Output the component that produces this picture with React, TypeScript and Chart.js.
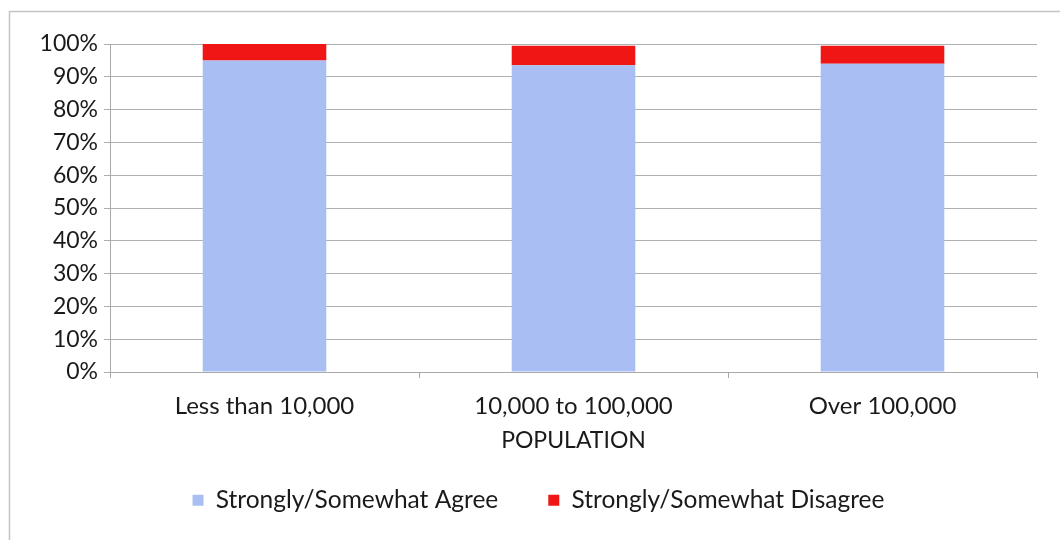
import React, { useEffect, useRef } from "react";
import { Chart, registerables } from "chart.js";

Chart.register(...registerables);

const categories = ["Less than 10,000", "10,000 to 100,000", "Over 100,000"];
const agreeValues = [95, 93.5, 94];
const disagreeValues = [5, 6, 5.5];
const yTickValues = [0, 10, 20, 30, 40, 50, 60, 70, 80, 90, 100];
const seriesNames = ["Strongly/Somewhat Agree", "Strongly/Somewhat Disagree"];
const xTitle = "POPULATION";

const FONT = "Lato, 'Open Sans', sans-serif";

const framePlugin = {
  id: "frame",
  beforeDraw(chart: any) {
    const ctx = chart.ctx;
    ctx.save();
    ctx.strokeStyle = "#c4c4c4";
    ctx.lineWidth = 1.5;
    ctx.beginPath();
    ctx.moveTo(9.5, 540);
    ctx.lineTo(9.5, 11.5);
    ctx.lineTo(1060, 11.5);
    ctx.stroke();
    ctx.restore();
  },
};

export default function App() {
  const ref = useRef<HTMLCanvasElement | null>(null);
  useEffect(() => {
    if (!ref.current) return;
    const chart = new Chart(ref.current, {
      type: "bar",
      data: {
        labels: categories,
        datasets: [
          {
            label: seriesNames[0],
            data: agreeValues,
            backgroundColor: "#a9bff4",
            categoryPercentage: 1,
            barPercentage: 0.4,
          },
          {
            label: seriesNames[1],
            data: disagreeValues,
            backgroundColor: "#f01616",
            categoryPercentage: 1,
            barPercentage: 0.4,
          },
        ],
      },
      options: {
        animation: false,
        responsive: true,
        maintainAspectRatio: false,
        layout: { padding: { left: 40, right: 23, top: 44, bottom: 17.5 } },
        plugins: {
          tooltip: { enabled: false },
          legend: {
            position: "bottom",
            labels: {
              boxWidth: 11,
              boxHeight: 11,
              padding: 50,
              color: "#1a1a1a",
              font: { family: FONT, size: 24.5 },
            },
          },
        },
        scales: {
          x: {
            stacked: true,
            afterFit(scale: any) {
              scale.height = 66;
            },
            grid: {
              offset: true,
              drawOnChartArea: false,
              drawTicks: true,
              tickLength: 6,
              color: "#a8a8a8",
            },
            border: { color: "#a8a8a8" },
            ticks: {
              color: "#1a1a1a",
              padding: 14,
              font: { family: FONT, size: 24 },
              maxRotation: 0,
            },
            title: {
              display: true,
              text: xTitle,
              color: "#1a1a1a",
              font: { family: FONT, size: 23 },
              padding: { top: 0, bottom: -16 },
            },
          },
          y: {
            stacked: true,
            min: 0,
            max: 100,
            afterFit(scale: any) {
              scale.width = 70;
            },
            afterBuildTicks(scale: any) {
              scale.ticks = yTickValues.map((v) => ({ value: v }));
            },
            grid: {
              color: "#b0b0b0",
              tickLength: 6,
            },
            border: { color: "#a8a8a8" },
            ticks: {
              color: "#1a1a1a",
              padding: 6,
              font: { family: FONT, size: 23 },
              callback: (v: any) => v + "%",
            },
          },
        },
      },
      plugins: [framePlugin],
    });
    return () => chart.destroy();
  }, []);
  return (
    <div style={{ position: "fixed", left: 0, top: 0, width: 1060, height: 540, background: "#fff" }}>
      <canvas ref={ref} />
    </div>
  );
}
